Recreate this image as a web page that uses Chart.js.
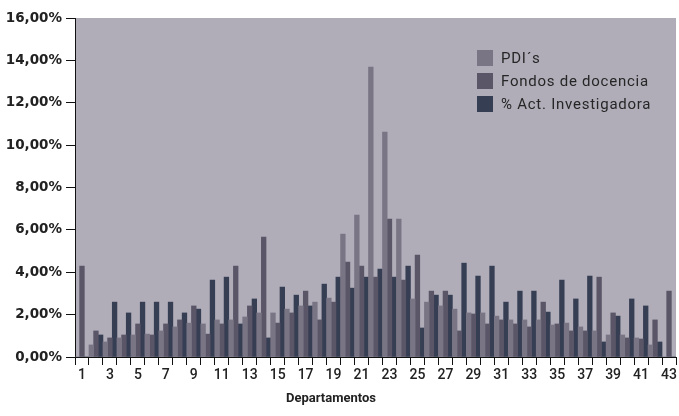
<!DOCTYPE html>
<html lang="es">
<head>
<meta charset="utf-8">
<title>Departamentos</title>
<script src="https://cdn.jsdelivr.net/npm/chart.js@4/dist/chart.umd.min.js"></script>
<style>
  html, body { margin: 0; padding: 0; background: #ffffff; }
  #wrap { width: 679px; height: 416px; position: relative; }
  canvas { display: block; }
</style>
</head>
<body>
<div id="wrap"><canvas id="chart" width="679" height="416"></canvas></div>
<script>
// Departamentos 1..43
const departamentos = Array.from({ length: 43 }, (_, i) => String(i + 1));

// Porcentajes por departamento
const pdis = [
  0, 0.57, 0.71, 0.90, 1.04, 1.08, 1.23, 1.42, 1.60, 1.56,
  1.75, 1.75, 1.89, 2.08, 2.08, 2.26, 2.41, 2.59, 2.78, 5.80,
  6.70, 13.68, 10.61, 6.51, 2.74, 2.59, 2.41, 2.26, 2.08, 2.08,
  1.93, 1.75, 1.75, 1.75, 1.51, 1.60, 1.42, 1.23, 1.04, 1.04,
  0.90, 0.57, 0
];
const fondosDocencia = [
  4.29, 1.23, 0.90, 1.04, 1.56, 1.04, 1.56, 1.75, 2.41, 1.08,
  1.56, 4.29, 2.41, 5.66, 1.60, 2.08, 3.11, 1.75, 2.59, 4.48,
  4.29, 3.77, 6.51, 3.63, 4.81, 3.11, 3.11, 1.23, 2.03, 1.56,
  1.75, 1.56, 1.42, 2.59, 1.56, 1.23, 1.23, 3.77, 2.08, 0.90,
  0.85, 1.75, 3.11
];
const actInvestigadora = [
  0, 1.04, 2.59, 2.08, 2.59, 2.59, 2.59, 2.08, 2.26, 3.63,
  3.77, 1.56, 2.74, 0.90, 3.30, 2.92, 2.41, 3.44, 3.77, 3.25,
  3.77, 4.15, 3.77, 4.29, 1.37, 2.92, 2.92, 4.43, 3.82, 4.29,
  2.59, 3.11, 3.11, 2.12, 3.63, 2.74, 3.82, 0.71, 1.93, 2.74,
  2.41, 0.71, 0
];
const yTicks = [0, 2, 4, 6, 8, 10, 12, 14, 16];

const C_BG = '#b0adb8';
const C_PDI = '#7a7585';
const C_FONDOS = '#5a5668';
const C_ACT = '#363e54';

// Gray panel behind the bars
const plotBackground = {
  id: 'plotBackground',
  beforeDraw(chart) {
    const { ctx, chartArea: a } = chart;
    ctx.save();
    ctx.fillStyle = C_BG;
    ctx.fillRect(a.left, a.top, a.right - a.left, a.bottom - a.top);
    ctx.restore();
  }
};

// Legend inside the plot, top right
const innerLegend = {
  id: 'innerLegend',
  afterDraw(chart) {
    const { ctx } = chart;
    const x0 = 477, y0 = 50, step = 23, box = 16;
    ctx.save();
    ctx.font = '15px Roboto';
    if ('letterSpacing' in ctx) ctx.letterSpacing = '0.75px';
    ctx.textBaseline = 'middle';
    chart.data.datasets.forEach((ds, i) => {
      const y = y0 + i * step;
      ctx.fillStyle = ds.backgroundColor;
      ctx.fillRect(x0, y, box, box);
      ctx.fillStyle = '#262626';
      ctx.fillText(ds.label, x0 + 24, y + box / 2 + 1);
    });
    ctx.restore();
  }
};

// Axis title under the category labels
const axisTitle = {
  id: 'axisTitle',
  afterDraw(chart) {
    const { ctx } = chart;
    ctx.save();
    ctx.font = 'bold 13px Roboto';
    ctx.fillStyle = '#222222';
    ctx.textAlign = 'center';
    ctx.textBaseline = 'alphabetic';
    ctx.fillText('Departamentos', 331, 402);
    ctx.restore();
  }
};

new Chart(document.getElementById('chart'), {
  type: 'bar',
  data: {
    labels: departamentos,
    datasets: [
      { label: 'PDI´s', data: pdis, backgroundColor: C_PDI },
      { label: 'Fondos de docencia', data: fondosDocencia, backgroundColor: C_FONDOS },
      { label: '% Act. Investigadora', data: actInvestigadora, backgroundColor: C_ACT }
    ]
  },
  plugins: [plotBackground, innerLegend, axisTitle],
  options: {
    responsive: false,
    animation: false,
    devicePixelRatio: 1,
    layout: { padding: { top: 18, right: 2, bottom: 0, left: 0 } },
    datasets: {
      bar: { barPercentage: 1, categoryPercentage: 1, borderWidth: 0 }
    },
    plugins: {
      legend: { display: false },
      tooltip: { enabled: false },
      title: { display: false }
    },
    scales: {
      x: {
        offset: true,
        grid: {
          offset: true,
          drawOnChartArea: false,
          drawTicks: true,
          tickLength: 8,
          color: '#111111'
        },
        border: { display: true, color: '#111111', width: 1 },
        ticks: {
          autoSkip: false,
          maxRotation: 0,
          padding: 2,
          color: '#222222',
          font: { family: 'Roboto', size: 14, weight: '500' },
          callback: (v, i) => (i % 2 === 0 ? departamentos[i] : '')
        },
        afterFit(scale) { scale.height = 59; }
      },
      y: {
        min: 0,
        max: 16,
        afterBuildTicks(scale) {
          scale.ticks = yTicks.map(v => ({ value: v }));
        },
        grid: {
          drawOnChartArea: false,
          drawTicks: true,
          tickLength: 9,
          color: '#111111'
        },
        border: { display: true, color: '#111111', width: 1 },
        ticks: {
          padding: 4,
          color: '#222222',
          font: { family: 'DejaVu Sans', size: 13.5, weight: 'bold' },
          callback: v => v.toFixed(2).replace('.', ',') + '%'
        },
        afterFit(scale) { scale.width = 75; }
      }
    }
  }
});
</script>
</body>
</html>
